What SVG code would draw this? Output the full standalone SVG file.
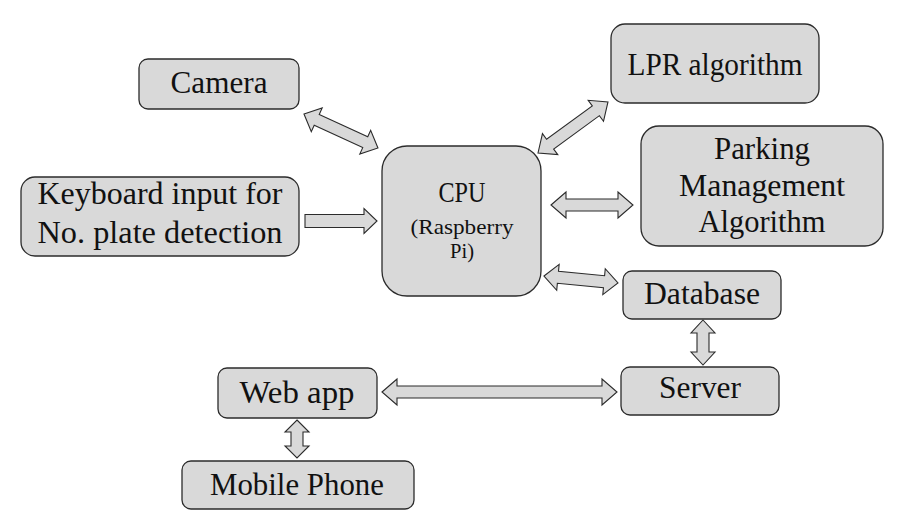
<svg xmlns="http://www.w3.org/2000/svg" width="909" height="517" viewBox="0 0 909 517">
<style>
.box{fill:#d9d9d9;stroke:#2b2b2b;stroke-width:1.3}
.arr{fill:#d9d9d9;stroke:#2b2b2b;stroke-width:1.1;stroke-linejoin:miter}
.t{font-size:32px}
.s{font-size:22px}
</style>
<rect width="909" height="517" fill="#ffffff"/>
<g id="connectors">
<path class="arr" transform="translate(304,114) rotate(24.7)" d="M0,0 L14,-13 L14,-6 L67.4,-6 L67.4,-13 L81.4,0 L67.4,13 L67.4,6 L14,6 L14,13 Z"/>
<path class="arr" transform="translate(538,153) rotate(-36.1)" d="M0,0 L15,-13 L15,-6 L71.6,-6 L71.6,-13 L86.6,0 L71.6,13 L71.6,6 L15,6 L15,13 Z"/>
<path class="arr" transform="translate(305,221)" d="M0,-6.5 L59,-6.5 L59,-12.5 L72,0 L59,12.5 L59,6.5 L0,6.5 Z"/>
<path class="arr" transform="translate(551,205)" d="M0,0 L15,-13 L15,-6 L67,-6 L67,-13 L82,0 L67,13 L67,6 L15,6 L15,13 Z"/>
<path class="arr" transform="translate(544,276) rotate(5.4)" d="M0,0 L14,-13 L14,-6 L60.3,-6 L60.3,-13 L74.3,0 L60.3,13 L60.3,6 L14,6 L14,13 Z"/>
<path class="arr" transform="translate(703,320) rotate(90)" d="M0,0 L13,-12 L13,-6 L32,-6 L32,-12 L45,0 L32,12 L32,6 L13,6 L13,12 Z"/>
<path class="arr" transform="translate(382,392)" d="M0,0 L15,-13 L15,-6 L220,-6 L220,-13 L235,0 L220,13 L220,6 L15,6 L15,13 Z"/>
<path class="arr" transform="translate(297,420) rotate(90)" d="M0,0 L12,-12 L12,-6 L26,-6 L26,-12 L38,0 L26,12 L26,6 L12,6 L12,12 Z"/>
</g>
<g font-family="'Liberation Serif', 'DejaVu Serif', 'Times New Roman', serif" fill="#111" text-anchor="middle">
<g id="camera">
<rect class="box" x="139" y="59" width="160" height="50" rx="9"/>
<text class="t" x="219" y="93" textLength="97" lengthAdjust="spacingAndGlyphs">Camera</text>
</g>
<g id="lpr">
<rect class="box" x="611" y="24" width="208" height="79" rx="14"/>
<text class="t" x="715" y="75" textLength="175" lengthAdjust="spacingAndGlyphs">LPR algorithm</text>
</g>
<g id="keyboard">
<rect class="box" x="21" y="177" width="278" height="79" rx="14"/>
<text class="t" x="160" y="204" textLength="245" lengthAdjust="spacingAndGlyphs">Keyboard input for</text>
<text class="t" x="160" y="243" textLength="245" lengthAdjust="spacingAndGlyphs">No. plate detection</text>
</g>
<g id="cpu">
<rect class="box" x="382" y="146" width="159" height="150" rx="25"/>
<text x="462" y="202" font-size="29" textLength="47" lengthAdjust="spacingAndGlyphs">CPU</text>
<text class="s" x="462" y="234" textLength="103" lengthAdjust="spacingAndGlyphs">(Raspberry</text>
<text class="s" x="462" y="258" textLength="24" lengthAdjust="spacingAndGlyphs">Pi)</text>
</g>
<g id="parking">
<rect class="box" x="641" y="126" width="242" height="120" rx="18"/>
<text class="t" x="762" y="159" textLength="96" lengthAdjust="spacingAndGlyphs">Parking</text>
<text class="t" x="762" y="196" textLength="166" lengthAdjust="spacingAndGlyphs">Management</text>
<text class="t" x="762" y="232" textLength="127" lengthAdjust="spacingAndGlyphs">Algorithm</text>
</g>
<g id="database">
<rect class="box" x="623" y="271" width="158" height="48" rx="9"/>
<text class="t" x="702" y="304" textLength="116" lengthAdjust="spacingAndGlyphs">Database</text>
</g>
<g id="server">
<rect class="box" x="621" y="367" width="158" height="48" rx="9"/>
<text class="t" x="700" y="398" textLength="82" lengthAdjust="spacingAndGlyphs">Server</text>
</g>
<g id="webapp">
<rect class="box" x="218" y="368" width="159" height="50" rx="9"/>
<text class="t" x="297" y="403" textLength="115" lengthAdjust="spacingAndGlyphs">Web app</text>
</g>
<g id="mobile">
<rect class="box" x="182" y="461" width="232" height="48" rx="9"/>
<text class="t" x="297" y="495" textLength="174" lengthAdjust="spacingAndGlyphs">Mobile Phone</text>
</g>
</g>
</svg>
